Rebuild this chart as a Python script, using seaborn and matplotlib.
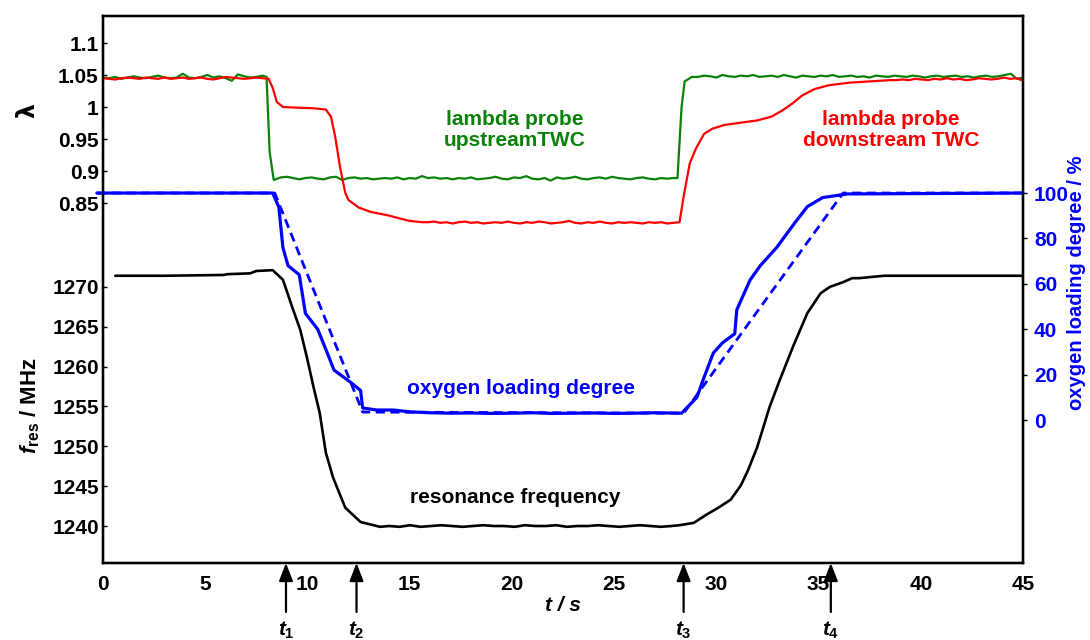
import numpy as np
import pandas as pd
import matplotlib
matplotlib.use("Agg")
import matplotlib.pyplot as plt
import seaborn as sns

# ---------------- data ----------------
# lambda probe upstream TWC (green)
up_a = [1.046,1.045,1.047,1.044,1.046,1.048,1.046,1.045,1.047,1.049,1.046,1.045,1.046,1.052,
        1.046,1.045,1.047,1.050,1.046,1.048,1.045,1.041,1.051,1.048,1.046,1.047,1.049]
up_tr1_t = [8.0, 8.15, 8.35, 8.7, 9.0]
up_tr1_v = [1.047, 0.930, 0.886, 0.890, 0.891]
up_b = [0.889,0.887,0.889,0.890,0.888,0.887,0.890,0.891,0.886,0.889,0.890,0.888,0.889,0.887,
        0.888,0.889,0.888,0.890,0.887,0.889,0.888,0.892,0.889,0.890,0.888,0.889,0.887,0.889,
        0.888,0.890,0.887,0.888,0.889,0.891,0.888,0.887,0.890,0.889,0.892,0.888,0.887,0.889,
        0.885,0.890,0.888,0.889,0.891,0.888,0.887,0.889,0.890,0.888,0.891,0.889,0.888,0.887,
        0.889,0.890,0.888,0.887,0.889,0.888,0.889]
up_tr2_t = [28.1, 28.3, 28.45, 28.8]
up_tr2_v = [0.889, 1.000, 1.040, 1.047]
up_d = [1.047,1.049,1.048,1.046,1.050,1.048,1.047,1.049,1.048,1.050,1.047,1.048,1.049,1.047,
        1.050,1.048,1.046,1.049,1.048,1.047,1.049,1.048,1.050,1.047,1.048,1.049,1.047,1.048,
        1.046,1.049,1.048,1.047,1.049,1.048,1.047,1.049,1.048,1.046,1.048,1.049,1.047,1.048,
        1.049,1.047,1.048,1.046,1.048,1.049,1.047,1.048,1.050,1.052,1.044,1.046]

# lambda probe downstream TWC (red)
dn_a = [1.045,1.044,1.043,1.045,1.046,1.045,1.044,1.046,1.045,1.044,1.046,1.044,1.045,1.046,
        1.044,1.045,1.046,1.044,1.043,1.045,1.047,1.046,1.045,1.044,1.045,1.046,1.045]
dn_tr1_t = [8.1, 8.3, 8.5, 8.8, 9.5, 10.3, 10.9, 11.15, 11.35, 11.6, 11.85, 12.0, 12.5,
            13.1, 13.9, 14.5, 15.0]
dn_tr1_v = [1.044, 1.030, 1.008, 1.000, 0.999, 0.998, 0.996, 0.985, 0.955, 0.905, 0.866,
            0.855, 0.843, 0.836, 0.831, 0.826, 0.822]
dn_b = [0.821,0.820,0.820,0.821,0.819,0.820,0.818,0.820,0.821,0.819,0.820,0.818,0.819,0.820,
        0.819,0.821,0.819,0.818,0.820,0.819,0.821,0.820,0.818,0.819,0.820,0.822,0.819,0.818,
        0.820,0.819,0.821,0.819,0.818,0.820,0.819,0.820,0.819,0.818,0.820,0.819,0.820,0.818,
        0.819]
dn_tr2_t = [28.2, 28.4, 28.7, 29.0, 29.4, 29.8, 30.4, 31.3, 32.0, 32.7, 33.2, 33.7, 34.2,
            34.8, 35.5, 36.5, 37.5, 38.5]
dn_tr2_v = [0.820, 0.860, 0.912, 0.935, 0.958, 0.966, 0.972, 0.976, 0.979, 0.985, 0.994,
            1.005, 1.018, 1.028, 1.034, 1.038, 1.040, 1.042]
dn_d = [1.042,1.043,1.042,1.044,1.043,1.042,1.044,1.043,1.045,1.043,1.044,1.042,1.043,1.045,
        1.044,1.043,1.044,1.046,1.044,1.045,1.041]

# resonance frequency (black)
fres_t = [0.6, 3.0, 5.9, 6.1, 7.2, 7.5, 8.3, 8.8, 9.25, 9.65, 9.97, 10.3, 10.6, 10.9, 11.25,
          11.85, 12.6, 13.55]
fres_v = [1271.4, 1271.4, 1271.5, 1271.6, 1271.7, 1272.0, 1272.1, 1270.9, 1267.5, 1264.6,
          1261.2, 1257.4, 1254.2, 1249.2, 1246.1, 1242.3, 1240.5, 1239.9]
fres_plateau = [1240.0,1239.9,1240.1,1239.9,1240.0,1240.1,1240.0,1239.9,1240.0,1240.1,1240.0,
                1240.0,1239.9,1240.1,1240.0,1240.0,1240.1,1239.9,1240.0,1240.0,1240.1,1240.0,
                1239.9,1240.0,1240.1,1240.0,1239.9,1240.0]
fres_rise_t = [28.2, 28.9, 29.5, 30.1, 30.7, 31.2, 31.55, 32.0, 32.3, 32.6, 33.1, 33.75,
               34.45, 35.1, 35.55, 36.2, 36.65, 37.0, 38.2, 45.0]
fres_rise_v = [1240.1, 1240.4, 1241.4, 1242.3, 1243.3, 1245.1, 1247.0, 1249.9, 1252.4, 1254.9,
               1258.3, 1262.5, 1266.7, 1269.2, 1270.0, 1270.6, 1271.1, 1271.1, 1271.4, 1271.4]

# oxygen loading degree, measured (blue solid)
oxy_t = [-0.3, 8.3, 8.6, 8.8, 9.05, 9.6, 9.9, 10.5, 10.95, 11.3, 12.1, 12.6, 12.7, 13.4,
         14.2, 15.0, 16.0, 17.0, 18.0, 19.0, 20.0, 21.0, 22.0, 23.0, 24.0, 25.0, 26.0, 27.0,
         28.3, 29.05, 29.35, 29.85, 30.3, 30.9, 31.0, 31.65, 32.15, 32.95, 33.85, 34.45,
         35.2, 36.4, 45.0]
oxy_v = [100, 100, 93.8, 76, 68, 64, 47, 40, 30, 22, 16.7, 13, 5.3, 4.4,
         4.4, 3.6, 3.2, 3.0, 3.1, 2.9, 3.0, 3.2, 2.9, 3.0, 3.1, 2.9, 3.0, 3.2,
         3.0, 10, 17.6, 29.5, 34, 38, 48.5, 61.7, 68, 76, 87, 94,
         98, 99.6, 100]

# oxygen loading degree, model (blue dashed)
oxy_model_t = [-0.3, 8.4, 12.7, 28.4, 36.2, 45.0]
oxy_model_v = [100, 100, 3.5, 3.0, 100, 100]

# event markers
events_t = [8.95, 12.4, 28.4, 35.6]
events_lab = ["1", "2", "3", "4"]

x_ticks = [0, 5, 10, 15, 20, 25, 30, 35, 40, 45]
lam_ticks = [0.85, 0.9, 0.95, 1.0, 1.05, 1.1]
lam_labels = ["0.85", "0.9", "0.95", "1", "1.05", "1.1"]
fres_ticks = [1240, 1245, 1250, 1255, 1260, 1265, 1270]
oxy_ticks = [0, 20, 40, 60, 80, 100]


def seg(values, start, end):
    return list(np.linspace(start, end, len(values)))


up_t = seg(up_a, 0.0, 7.8) + up_tr1_t + seg(up_b, 9.3, 27.9) + up_tr2_t + seg(up_d, 29.1, 45.0)
up_v = up_a + up_tr1_v + up_b + up_tr2_v + up_d
dn_t = seg(dn_a, 0.0, 7.8) + dn_tr1_t + seg(dn_b, 15.3, 27.9) + dn_tr2_t + seg(dn_d, 38.8, 45.0)
dn_v = dn_a + dn_tr1_v + dn_b + dn_tr2_v + dn_d
fr_t = fres_t + seg(fres_plateau, 14.0, 27.8) + fres_rise_t
fr_v = fres_v + fres_plateau + fres_rise_v

df_up = pd.DataFrame({"t": up_t, "v": up_v})
df_dn = pd.DataFrame({"t": dn_t, "v": dn_v})
df_fr = pd.DataFrame({"t": fr_t, "v": fr_v})
df_ox = pd.DataFrame({"t": oxy_t, "v": oxy_v})
df_om = pd.DataFrame({"t": oxy_model_t, "v": oxy_model_v})

# ---------------- style ----------------
sns.set_theme(style="white")
plt.rcParams["font.family"] = ["Liberation Sans", "DejaVu Sans"]
plt.rcParams["font.weight"] = "bold"
plt.rcParams["text.color"] = "black"
plt.rcParams["axes.labelcolor"] = "black"
plt.rcParams["xtick.color"] = "black"
plt.rcParams["ytick.color"] = "black"
plt.rcParams["mathtext.fontset"] = "custom"
plt.rcParams["mathtext.it"] = "Liberation Sans:italic:bold"
plt.rcParams["mathtext.rm"] = "Liberation Sans:bold"
plt.rcParams["mathtext.bf"] = "Liberation Sans:bold"

W, H = 1090, 640
fig = plt.figure(figsize=(W / 100, H / 100), dpi=100)
L, R, T, B = 103, 1023, 16, 563
ax = fig.add_axes([L / W, 1 - B / H, (R - L) / W, (B - T) / H])
ax_l = ax.twinx()
ax_o = ax.twinx()

GREEN = "#0a820a"
RED = "#ff0000"
BLUE = "#0000ff"
FS = 15

# resonance frequency
sns.lineplot(data=df_fr, x="t", y="v", ax=ax, color="black", linewidth=1.9,
             estimator=None, sort=False)
ax.set_xlim(0, 45)
ax.set_ylim(1235.36, 1303.99)
ax.set_yticks(fres_ticks)
ax.set_yticklabels([str(v) for v in fres_ticks])
ax.set_xticks(x_ticks)
ax.set_xticklabels([str(v) for v in x_ticks])
ax.set_xlabel("t / s", fontsize=FS, fontweight="bold", fontstyle="italic", labelpad=1,
              color="black")
ax.set_ylabel("")
ax.tick_params(axis="both", direction="in", length=3, width=1, labelsize=FS,
               colors="black", labelcolor="black")
ax.tick_params(axis="y", pad=3)
ax.tick_params(axis="x", pad=9)

# lambda curves
sns.lineplot(data=df_up, x="t", y="v", ax=ax_l, color=GREEN, linewidth=1.6,
             estimator=None, sort=False)
sns.lineplot(data=df_dn, x="t", y="v", ax=ax_l, color=RED, linewidth=1.6,
             estimator=None, sort=False)
ax_l.set_ylim(0.2875, 1.1422)
ax_l.yaxis.set_ticks_position("left")
ax_l.yaxis.set_label_position("left")
ax_l.set_yticks(lam_ticks)
ax_l.set_yticklabels(lam_labels)
ax_l.set_ylabel("")
ax_l.tick_params(axis="y", direction="in", length=3, width=1, labelsize=FS, pad=3,
                 colors="black", labelcolor="black")

# oxygen loading degree
sns.lineplot(data=df_om, x="t", y="v", ax=ax_o, color=BLUE, linewidth=2.0,
             estimator=None, sort=False)
ax_o.lines[-1].set_dashes((3.3, 2.0))
sns.lineplot(data=df_ox, x="t", y="v", ax=ax_o, color=BLUE, linewidth=2.3,
             estimator=None, sort=False)
for ln in ax_o.lines:
    ln.set_clip_on(False)
ax_o.set_ylim(-63, 178)
ax_o.set_yticks(oxy_ticks)
ax_o.set_yticklabels([str(v) for v in oxy_ticks])
ax_o.set_ylabel("")
ax_o.tick_params(axis="y", direction="out", length=3, width=1, labelsize=FS, pad=5,
                 colors="black", labelcolor=BLUE)
ax_o.set_xlim(0, 45)

for a in (ax, ax_l, ax_o):
    for s in a.spines.values():
        s.set_color("black")
        s.set_linewidth(1.6)
    for lab in a.get_yticklabels() + a.get_xticklabels():
        lab.set_fontweight("bold")

# annotations
ax_l.text(20.15, 0.964, "lambda probe\nupstreamTWC", color=GREEN, fontsize=FS,
          fontweight="bold", ha="center", va="center", linespacing=1.15)
ax_l.text(38.55, 0.964, "lambda probe\ndownstream TWC", color=RED, fontsize=FS,
          fontweight="bold", ha="center", va="center", linespacing=1.15)
ax_o.text(20.45, 14.1, "oxygen loading degree", color=BLUE, fontsize=FS,
          fontweight="bold", ha="center", va="center")
ax.text(20.15, 1243.6, "resonance frequency", color="black", fontsize=FS,
        fontweight="bold", ha="center", va="center")

# axis labels
fig.text(27 / W, 1 - 110 / H, "λ", fontsize=17, fontweight="bold", rotation=90,
         ha="center", va="center", family=["DejaVu Sans"], color="black")
fig.text(30 / W, 1 - 406 / H, r"$f_{\mathrm{res}}$ / MHz", fontsize=FS + 1,
         fontweight="bold", rotation=90, ha="center", va="center", color="black")
fig.text(1077 / W, 1 - 283 / H, "oxygen loading degree / %", fontsize=14.5,
         fontweight="bold", rotation=90, ha="center", va="center", color=BLUE)

# event arrows
for t, lab in zip(events_t, events_lab):
    ax.annotate("", xy=(t, 0), xycoords=("data", "axes fraction"),
                xytext=(t, -(612 - B) / (B - T)), textcoords=("data", "axes fraction"),
                arrowprops=dict(arrowstyle="-|>,head_length=0.9,head_width=0.35",
                                color="black", lw=1.6, shrinkA=0, shrinkB=0),
                annotation_clip=False)
    ax.text(t, -(620 - B) / (B - T), r"$t_{%s}$" % lab, transform=ax.get_xaxis_transform(),
            ha="center", va="top", fontsize=FS, clip_on=False, color="black")

fig.savefig("out.png", dpi=100)
